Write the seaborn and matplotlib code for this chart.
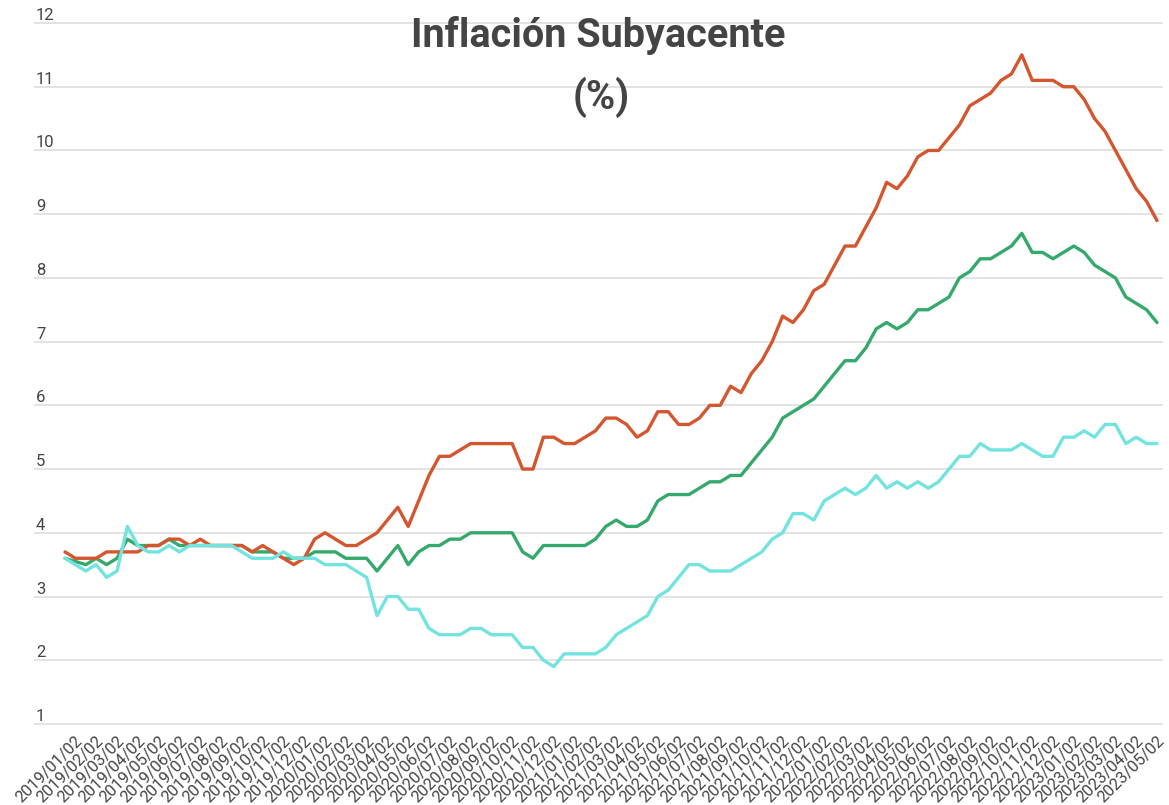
import matplotlib
matplotlib.use("Agg")
import matplotlib.pyplot as plt
import matplotlib.transforms as mtransforms
import pandas as pd
import seaborn as sns

# Core inflation, fortnightly readings (annual %), Jan 2019 - May 2023
mercancias = [3.7, 3.6, 3.6, 3.6, 3.7, 3.7, 3.7, 3.7, 3.8, 3.8, 3.9, 3.9, 3.8, 3.9, 3.8, 3.8, 3.8, 3.8, 3.7, 3.8, 3.7, 3.6, 3.5, 3.6,
              3.9, 4.0, 3.9, 3.8, 3.8, 3.9, 4.0, 4.2, 4.4, 4.1, 4.5, 4.9, 5.2, 5.2,
              5.3, 5.4, 5.4, 5.4, 5.4, 5.4, 5.0, 5.0, 5.5, 5.5, 5.4, 5.4, 5.5, 5.6, 5.8, 5.8, 5.7, 5.5, 5.6, 5.9,
              5.9, 5.7, 5.7, 5.8, 6.0, 6.0, 6.3, 6.2, 6.5, 6.7, 7.0, 7.4, 7.3, 7.5, 7.8, 7.9, 8.2, 8.5, 8.5,
              8.8, 9.1, 9.5, 9.4, 9.6, 9.9, 10.0, 10.0, 10.2, 10.4, 10.7, 10.8, 10.9, 11.1, 11.2, 11.5,
              11.1, 11.1, 11.1, 11.0, 11.0, 10.8, 10.5, 10.3, 10.0, 9.7, 9.4, 9.2, 8.9]

subyacente = [3.6, 3.55, 3.5, 3.6, 3.5, 3.6, 3.9, 3.8,
              3.8, 3.8, 3.9, 3.8, 3.8, 3.8, 3.8, 3.8, 3.8, 3.8,
              3.7, 3.7, 3.7, 3.6, 3.6, 3.6,
              3.7, 3.7, 3.7, 3.6, 3.6, 3.6, 3.4, 3.6, 3.8, 3.5, 3.7, 3.8, 3.8, 3.9,
              3.9, 4.0, 4.0, 4.0, 4.0, 4.0, 3.7, 3.6, 3.8, 3.8, 3.8, 3.8, 3.8, 3.9, 4.1, 4.2, 4.1, 4.1, 4.2, 4.5,
              4.6, 4.6, 4.6, 4.7, 4.8, 4.8, 4.9, 4.9, 5.1, 5.3, 5.5, 5.8, 5.9, 6.0, 6.1, 6.3, 6.5, 6.7, 6.7,
              6.9, 7.2, 7.3, 7.2, 7.3, 7.5, 7.5, 7.6, 7.7, 8.0, 8.1, 8.3, 8.3, 8.4, 8.5, 8.7,
              8.4, 8.4, 8.3, 8.4, 8.5, 8.4, 8.2, 8.1, 8.0, 7.7, 7.6, 7.5, 7.3]

servicios = [3.6, 3.5, 3.4, 3.5, 3.3, 3.4, 4.1, 3.8,
             3.7, 3.7, 3.8, 3.7, 3.8, 3.8, 3.8, 3.8, 3.8, 3.7,
             3.6, 3.6, 3.6, 3.7, 3.6, 3.6,
             3.6, 3.5, 3.5, 3.5, 3.4, 3.3, 2.7, 3.0, 3.0, 2.8, 2.8, 2.5, 2.4, 2.4,
             2.4, 2.5, 2.5, 2.4, 2.4, 2.4, 2.2, 2.2, 2.0, 1.9, 2.1, 2.1, 2.1, 2.1, 2.2, 2.4, 2.5, 2.6, 2.7, 3.0,
             3.1, 3.3, 3.5, 3.5, 3.4, 3.4, 3.4, 3.5, 3.6, 3.7, 3.9, 4.0, 4.3, 4.3, 4.2, 4.5, 4.6, 4.7, 4.6,
             4.7, 4.9, 4.7, 4.8, 4.7, 4.8, 4.7, 4.8, 5.0, 5.2, 5.2, 5.4, 5.3, 5.3, 5.3, 5.4,
             5.3, 5.2, 5.2, 5.5, 5.5, 5.6, 5.5, 5.7, 5.7, 5.4, 5.5, 5.4, 5.4]

# One label per month (every second fortnight)
meses = pd.date_range("2019-01-01", "2023-05-01", freq="MS")
etiquetas = [f"{m:%Y/%m}/02" for m in meses]

series = {"Subyacente": subyacente, "Mercancías": mercancias, "Servicios": servicios}
colores = {"Subyacente": "#35a96c", "Mercancías": "#d3562f", "Servicios": "#72e3de"}

df = pd.concat(
    [pd.DataFrame({"quincena": range(len(v)), "valor": v, "serie": k}) for k, v in series.items()],
    ignore_index=True,
)

sns.set_theme(style="white")
plt.rcParams["font.family"] = ["Roboto", "DejaVu Sans"]

fig = plt.figure(figsize=(11.69, 8.05), dpi=100)
ax = fig.add_axes([0.0291, 0.0999, 0.9658, 0.8723])

sns.lineplot(data=df, x="quincena", y="valor", hue="serie", hue_order=list(series),
             palette=colores, legend=False, linewidth=2.4, ax=ax)

ax.set_xlim(-2.98, 105.58)
ax.set_ylim(0.99, 12.01)
ax.set_xlabel("")
ax.set_ylabel("")

for s in ax.spines.values():
    s.set_visible(False)

ax.set_yticks(range(1, 13))
ax.yaxis.grid(True, color="#e0e0e0", linewidth=1.3)
ax.xaxis.grid(False)
ax.set_axisbelow(True)
ax.tick_params(axis="y", length=0, pad=-1.5, labelsize=12, labelcolor="#444444")
plt.setp(ax.get_yticklabels(), ha="left", va="bottom")

ax.set_xticks(range(0, 2 * len(etiquetas), 2))
ax.set_xticklabels(etiquetas, rotation=45, ha="right", va="top",
                   rotation_mode="anchor", fontsize=11.8, color="#444444")
ax.tick_params(axis="x", length=0, pad=6)
desplaza = mtransforms.ScaledTranslation(10 / 100, 0, fig.dpi_scale_trans)
for lab in ax.get_xticklabels():
    lab.set_transform(lab.get_transform() + desplaza)

fig.text(0.512, 1 - 47 / 805, "Inflación Subyacente", ha="center", va="baseline",
         fontsize=28.5, fontweight="bold", color="#444444")
fig.text(0.514, 1 - 108.5 / 805, "(%)", ha="center", va="baseline",
         fontsize=28.5, fontweight="bold", color="#444444")

fig.savefig("out.png", dpi=100, facecolor="white")
